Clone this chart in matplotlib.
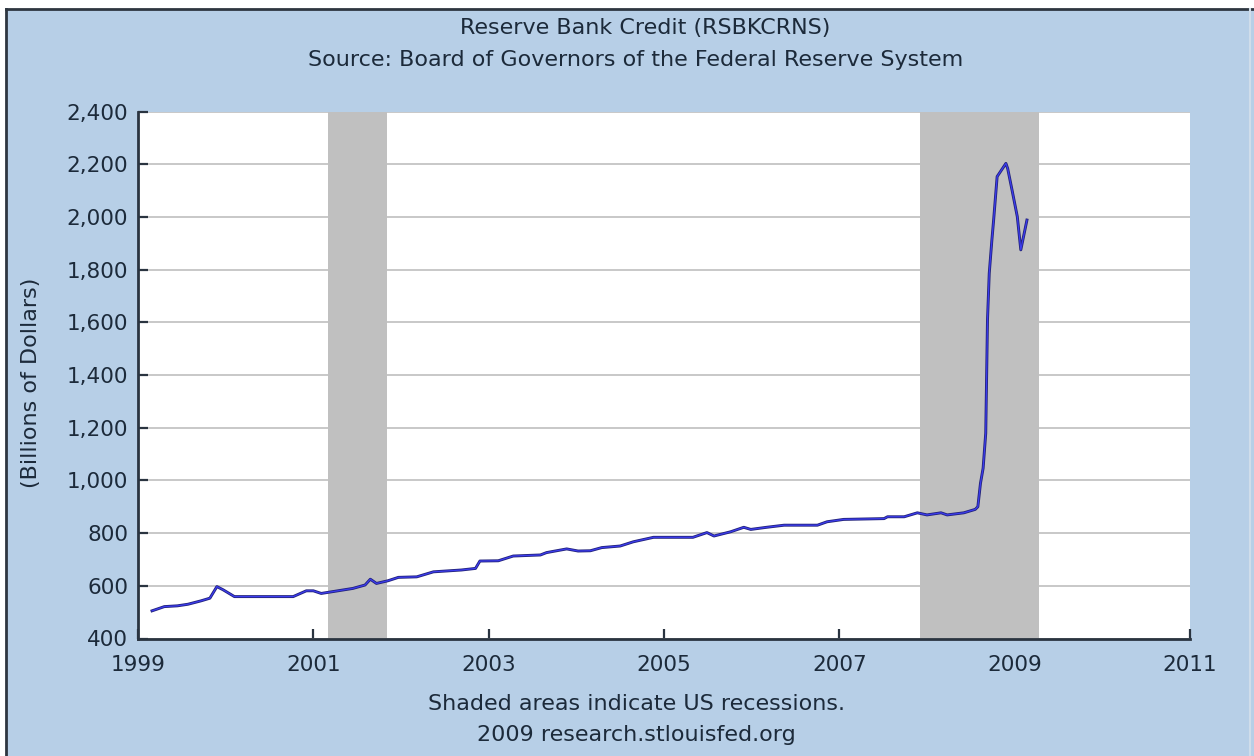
import matplotlib
matplotlib.use("Agg")
import matplotlib.pyplot as plt
from matplotlib.patches import Rectangle
from matplotlib.lines import Line2D
import matplotlib.patheffects as pe
from matplotlib.ticker import FuncFormatter

# ---- data (decimal year, billions of dollars) ----
years = [1999.16, 1999.30, 1999.45, 1999.57, 1999.72, 1999.82, 1999.90, 1999.97,
         2000.10, 2000.40, 2000.77, 2000.92, 2001.00, 2001.09, 2001.28, 2001.45,
         2001.59, 2001.65, 2001.72, 2001.85, 2001.97, 2002.18, 2002.37, 2002.69,
         2002.85, 2002.90, 2003.11, 2003.28, 2003.59, 2003.66, 2003.89, 2004.02,
         2004.16, 2004.29, 2004.50, 2004.65, 2004.88, 2005.33, 2005.49, 2005.57,
         2005.76, 2005.91, 2005.99, 2006.17, 2006.37, 2006.75, 2006.86, 2007.05,
         2007.51, 2007.55, 2007.74, 2007.89, 2008.00, 2008.16, 2008.23, 2008.42,
         2008.55, 2008.58, 2008.61, 2008.64, 2008.67, 2008.68, 2008.69, 2008.71,
         2008.74, 2008.76, 2008.80, 2008.90, 2008.92, 2008.97, 2009.03, 2009.07,
         2009.14]
values = [505, 521, 524, 530, 543, 553, 597, 585,
          559, 559, 559, 581, 581, 571, 581, 590,
          603, 625, 609, 619, 632, 634, 653, 660,
          666, 694, 695, 713, 717, 726, 740, 732,
          733, 745, 751, 767, 784, 784, 802, 789,
          805, 822, 814, 822, 830, 830, 843, 852,
          855, 862, 862, 877, 869, 877, 869, 877,
          890, 900, 989, 1046, 1179, 1394, 1609, 1786,
          1912, 1988, 2153, 2203, 2184, 2102, 2001, 1875,
          1988]

recessions = [(2001.17, 2001.84), (2007.92, 2009.28)]
x_ticks = [1999, 2001, 2003, 2005, 2007, 2009, 2011]
y_ticks = [400, 600, 800, 1000, 1200, 1400, 1600, 1800, 2000, 2200, 2400]

title = "Reserve Bank Credit (RSBKCRNS)"
subtitle = "Source: Board of Governors of the Federal Reserve System"
ylabel = "(Billions of Dollars)"
note1 = "Shaded areas indicate US recessions."
note2 = "2009 research.stlouisfed.org"

W, H = 1254, 756
BLUE = "#B7CFE7"
TXT = "#1C2A3A"
FS = 15.5
FT = 16

fig = plt.figure(figsize=(W / 100, H / 100), dpi=100, facecolor="white")

# blue panel with dark top/left edge
fig.patches.append(Rectangle((6 / W, 0), 1 - 6 / W, 1 - 9 / H, transform=fig.transFigure,
                             facecolor=BLUE, edgecolor="none", zorder=-10))
fig.lines.append(Line2D([6 / W, 1], [1 - 9 / H, 1 - 9 / H], transform=fig.transFigure,
                        color="#2E3640", lw=2.0))
fig.lines.append(Line2D([6 / W, 6 / W], [0, 1 - 9 / H], transform=fig.transFigure,
                        color="#2E3640", lw=2.0))
fig.lines.append(Line2D([1250 / W, 1250 / W], [0, 1 - 9 / H], transform=fig.transFigure,
                        color="#D0DDEA", lw=1.5))

ax = fig.add_axes([138 / W, 1 - 638.5 / H, (1190 - 138) / W, (638.5 - 111.5) / H])
ax.set_facecolor("white")
ax.set_xlim(1999, 2011)
ax.set_ylim(400, 2400)

for a, b in recessions:
    ax.axvspan(a, b, color="#C0C0C0", lw=0, zorder=1)

ax.set_yticks(y_ticks)
ax.set_xticks(x_ticks)
ax.yaxis.set_major_formatter(FuncFormatter(lambda v, p: f"{int(v):,}"))
ax.grid(axis="y", color="#C4C4C4", lw=1.3, zorder=0.5)
ax.set_axisbelow(True)

ax.plot(years, values, color="#3C3CF0", lw=0.9, zorder=3,
        path_effects=[pe.Stroke(linewidth=2.1, foreground="#22227A"), pe.Normal()])

for s in ["top", "right"]:
    ax.spines[s].set_visible(False)
for s in ["left", "bottom"]:
    ax.spines[s].set_color("#2A3440")
    ax.spines[s].set_linewidth(2)
    ax.spines[s].set_zorder(4)

ax.tick_params(axis="both", direction="in", length=7, width=1.6, color="#2A3440",
               labelsize=FS, labelcolor=TXT)
ax.tick_params(axis="y", pad=7)
ax.tick_params(axis="x", pad=12)

fig.text(645 / W, 1 - 28 / H, title, ha="center", va="center", fontsize=FT, color=TXT)
fig.text(636 / W, 1 - 60 / H, subtitle, ha="center", va="center", fontsize=FT, color=TXT)
fig.text(31 / W, 1 - 383 / H, ylabel, ha="center", va="center", rotation=90,
         fontsize=FT, color=TXT)
fig.text(637 / W, 1 - 704 / H, note1, ha="center", va="center", fontsize=FT, color=TXT)
fig.text(636 / W, 1 - 735 / H, note2, ha="center", va="center", fontsize=FT, color=TXT)

fig.savefig("out.png", dpi=100, facecolor=fig.get_facecolor())
